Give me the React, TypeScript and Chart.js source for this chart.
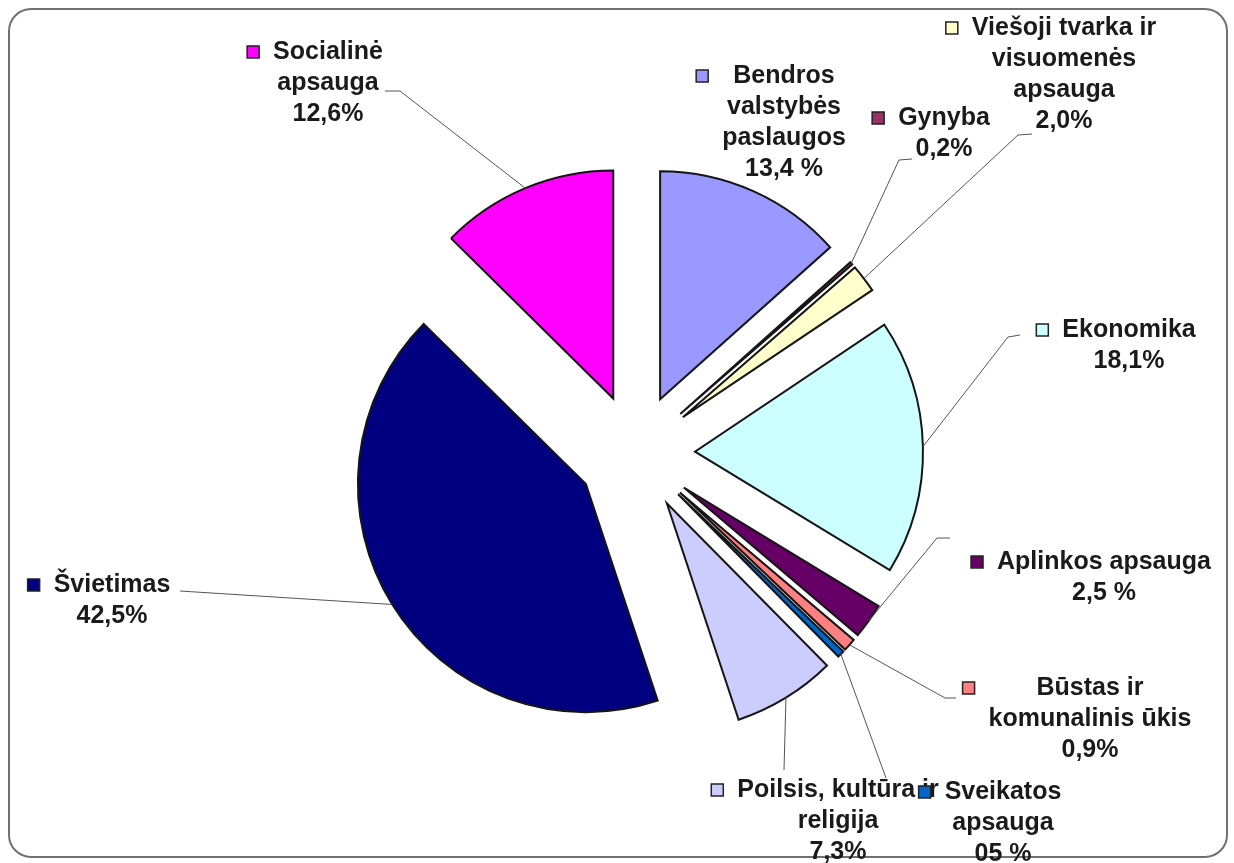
import React, { useEffect, useRef } from 'react';
import { Chart, registerables } from 'chart.js';

Chart.register(...registerables);

// ---- data ----
const categories = [
  'Bendros valstybės paslaugos',
  'Gynyba',
  'Viešoji tvarka ir visuomenės apsauga',
  'Ekonomika',
  'Aplinkos apsauga',
  'Būstas ir komunalinis ūkis',
  'Sveikatos apsauga',
  'Poilsis, kultūra ir religija',
  'Švietimas',
  'Socialinė apsauga',
];
const shares = [13.4, 0.2, 2.0, 18.1, 2.5, 0.9, 0.5, 7.3, 42.5, 12.6];
const shareLabels = ['13,4 %', '0,2%', '2,0%', '18,1%', '2,5 %', '0,9%', '05 %', '7,3%', '42,5%', '12,6%'];
const nameLines = [
  ['Bendros', 'valstybės', 'paslaugos'],
  ['Gynyba'],
  ['Viešoji tvarka ir', 'visuomenės', 'apsauga'],
  ['Ekonomika'],
  ['Aplinkos apsauga'],
  ['Būstas ir', 'komunalinis ūkis'],
  ['Sveikatos', 'apsauga'],
  ['Poilsis, kultūra ir', 'religija'],
  ['Švietimas'],
  ['Socialinė', 'apsauga'],
];

// ---- styles / layout ----
const sliceColors = ['#9999FF', '#993366', '#FFFFCC', '#CCFFFF', '#660066', '#FF8080', '#0066CC', '#CCCCFF', '#000080', '#FF00FF'];
const PIE_RADIUS = 228;
const EXPLODE = 59;
// label block: [center x, first line y]
const labelAnchors: number[][] = [
  [784, 76], [944, 118], [1064, 28], [1129, 330], [1104, 562],
  [1090, 688], [1003, 792], [838, 790], [112, 585], [328, 52],
];
// leader polyline points on the label side (then to slice)
const leaderPoints: (number[][] | null)[] = [
  null,
  [[912, 159], [899, 160]],
  [[1032, 134], [1018, 135]],
  [[1020, 335], [1008, 337]],
  [[950, 538], [937, 538]],
  [[956, 698], [945, 698]],
  [[886, 778]],
  [[784, 770]],
  [[180, 591]],
  [[385, 91], [400, 91]],
];
const drawOrder = [0, 1, 2, 3, 4, 5, 7, 6, 8, 9];
const FONT = 'bold 25px "Liberation Sans", Arial, sans-serif';
const LINE_H = 31;
const KEY = 12;
const KEY_GAP = 14;

// Excel-style explode: every slice moved outward along its bisector by the same distance
const explodePlugin = {
  id: 'explodePlugin',
  afterDatasetsUpdate(chart: any) {
    const meta = chart.getDatasetMeta(0);
    meta.data.forEach((el: any) => {
      const mid = (el.startAngle + el.endAngle) / 2;
      el.x = el.x + Math.cos(mid) * EXPLODE;
      el.y = el.y + Math.sin(mid) * EXPLODE;
    });
  },
};

const frame = {
  id: 'frame',
  beforeDraw(chart: any) {
    const ctx = chart.ctx;
    const x = 9, y = 9, w = 1218, h = 848, r = 22;
    ctx.save();
    ctx.beginPath();
    ctx.moveTo(x + r, y);
    ctx.lineTo(x + w - r, y);
    ctx.arcTo(x + w, y, x + w, y + r, r);
    ctx.lineTo(x + w, y + h - r);
    ctx.arcTo(x + w, y + h, x + w - r, y + h, r);
    ctx.lineTo(x + r, y + h);
    ctx.arcTo(x, y + h, x, y + h - r, r);
    ctx.lineTo(x, y + r);
    ctx.arcTo(x, y, x + r, y, r);
    ctx.closePath();
    ctx.fillStyle = '#ffffff';
    ctx.fill();
    ctx.lineWidth = 2;
    ctx.strokeStyle = '#707070';
    ctx.stroke();
    ctx.restore();
  },
};

const labelsPlugin = {
  id: 'labelsPlugin',
  afterDatasetsDraw(chart: any) {
    const ctx = chart.ctx;
    const meta = chart.getDatasetMeta(0);
    ctx.save();
    // leader lines
    ctx.strokeStyle = '#555555';
    ctx.lineWidth = 1;
    meta.data.forEach((el: any, i: number) => {
      const pts = leaderPoints[i];
      if (!pts) return;
      const mid = (el.startAngle + el.endAngle) / 2;
      const sx = el.x + Math.cos(mid) * el.outerRadius;
      const sy = el.y + Math.sin(mid) * el.outerRadius;
      ctx.beginPath();
      ctx.moveTo(pts[0][0], pts[0][1]);
      for (let k = 1; k < pts.length; k++) ctx.lineTo(pts[k][0], pts[k][1]);
      ctx.lineTo(sx, sy);
      ctx.stroke();
    });
    // labels
    ctx.font = FONT;
    ctx.textAlign = 'center';
    ctx.textBaseline = 'middle';
    drawOrder.forEach((i) => {
      const lines = [...nameLines[i], shareLabels[i]];
      const [cx, y0] = labelAnchors[i];
      let maxW = 0;
      lines.forEach((t) => { maxW = Math.max(maxW, ctx.measureText(t).width); });
      const left = cx - maxW / 2;
      const kx = left - KEY_GAP - KEY;
      const ky = y0 - KEY / 2;
      ctx.fillStyle = sliceColors[i];
      ctx.fillRect(kx, ky, KEY, KEY);
      ctx.lineWidth = 1.5;
      ctx.strokeStyle = '#222222';
      ctx.strokeRect(kx, ky, KEY, KEY);
      ctx.fillStyle = '#1a1a1a';
      lines.forEach((t, k) => ctx.fillText(t, cx, y0 + k * LINE_H));
    });
    ctx.restore();
  },
};

export default function App() {
  const ref = useRef<HTMLCanvasElement | null>(null);
  useEffect(() => {
    const canvas = ref.current;
    if (!canvas) return;
    const chart = new Chart(canvas, {
      type: 'pie',
      data: {
        labels: categories,
        datasets: [
          {
            data: shares,
            backgroundColor: sliceColors,
            borderColor: '#151515',
            borderWidth: 2,
            borderJoinStyle: 'miter',
          } as any,
        ],
      },
      options: {
        responsive: false,
        animation: false,
        events: [],
        radius: PIE_RADIUS,
        layout: { padding: { left: 38, right: 0, top: 43, bottom: 0 } },
        plugins: { legend: { display: false }, tooltip: { enabled: false } },
      } as any,
      plugins: [frame, explodePlugin, labelsPlugin],
    });
    return () => chart.destroy();
  }, []);
  return (
    <canvas
      ref={ref}
      width={1234}
      height={863}
      style={{ position: 'fixed', left: 0, top: 0, width: 1234, height: 863 }}
    />
  );
}
